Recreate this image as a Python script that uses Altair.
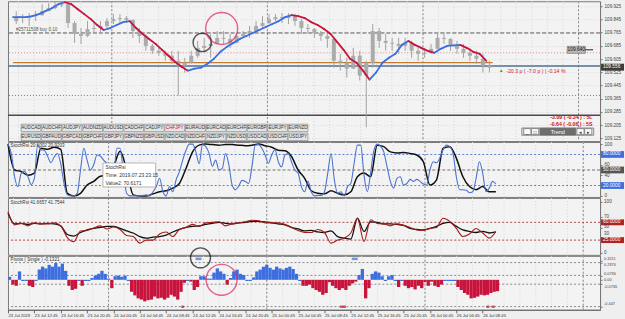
import altair as alt
import pandas as pd

FONT = "Liberation Sans"
W = 593
XDOM = [0, 89.8]

# ---------------- data ----------------
x_labels = ["23 Jul 2019", "23 Jul 12:45", "23 Jul 16:45", "23 Jul 20:45",
            "24 Jul 00:45", "24 Jul 04:45", "24 Jul 08:45", "24 Jul 12:45",
            "24 Jul 16:45", "24 Jul 20:45", "25 Jul 00:45", "25 Jul 04:45",
            "25 Jul 08:45", "25 Jul 12:45", "25 Jul 16:45", "25 Jul 20:45",
            "26 Jul 00:45", "26 Jul 04:45", "26 Jul 08:45"]
x_label_hours = [0, 4, 8, 12, 16, 20, 24, 28, 32, 36, 40, 44, 48, 52, 56, 60, 64, 68, 72]
day_breaks = [15.25, 39.25, 63.25, 87.25]
price_ticks = [109.925, 109.845, 109.765, 109.685, 109.605, 109.525,
               109.445, 109.365, 109.285, 109.205, 109.125]

open0 = 109.835
close = [109.853, 109.853, 109.865, 109.871, 109.895, 109.913, 109.931, 109.937, 109.823, 109.757,
         109.745, 109.787, 109.793, 109.805, 109.835, 109.847, 109.853, 109.841, 109.775, 109.745,
         109.685, 109.655, 109.643, 109.625, 109.595, 109.565, 109.583, 109.625, 109.673, 109.685,
         109.697, 109.733, 109.727, 109.703, 109.745, 109.757, 109.775, 109.805, 109.823, 109.847,
         109.859, 109.853, 109.865, 109.835, 109.793, 109.787, 109.763, 109.745, 109.727, 109.595,
         109.583, 109.547, 109.625, 109.505, 109.583, 109.775, 109.715, 109.703, 109.697, 109.685,
         109.703, 109.655, 109.637, 109.643, 109.667, 109.733, 109.727, 109.685, 109.667, 109.643,
         109.625, 109.607, 109.565, 109.553]
high = [109.895, 109.877, 109.883, 109.895, 109.937, 109.943, 109.955, 109.955, 109.955, 109.835,
        109.793, 109.835, 109.823, 109.835, 109.853, 109.877, 109.877, 109.865, 109.847, 109.793,
        109.757, 109.697, 109.673, 109.655, 109.655, 109.655, 109.613, 109.655, 109.715, 109.733,
        109.757, 109.775, 109.775, 109.757, 109.763, 109.775, 109.805, 109.835, 109.865, 109.877,
        109.877, 109.883, 109.883, 109.877, 109.847, 109.817, 109.793, 109.775, 109.757, 109.733,
        109.637, 109.613, 109.673, 109.655, 109.595, 109.817, 109.793, 109.757, 109.733, 109.733,
        109.733, 109.715, 109.673, 109.673, 109.697, 109.757, 109.763, 109.733, 109.715, 109.697,
        109.673, 109.655, 109.637, 109.595]
low = [109.817, 109.823, 109.805, 109.835, 109.865, 109.895, 109.907, 109.919, 109.793, 109.703,
       109.697, 109.739, 109.763, 109.763, 109.793, 109.817, 109.817, 109.823, 109.733, 109.703,
       109.655, 109.637, 109.625, 109.595, 109.577, 109.385, 109.523, 109.577, 109.613, 109.655,
       109.613, 109.697, 109.697, 109.673, 109.703, 109.733, 109.733, 109.775, 109.793, 109.817,
       109.835, 109.823, 109.817, 109.805, 109.757, 109.757, 109.733, 109.715, 109.673, 109.553,
       109.535, 109.493, 109.547, 109.475, 109.193, 109.553, 109.673, 109.655, 109.655, 109.637,
       109.655, 109.613, 109.595, 109.613, 109.637, 109.667, 109.697, 109.655, 109.637, 109.613,
       109.595, 109.577, 109.523, 109.523]
ma = [109.859, 109.859, 109.859, 109.865, 109.877, 109.895, 109.913, 109.937, 109.949, 109.937,
      109.907, 109.877, 109.847, 109.811, 109.781, 109.793, 109.811, 109.829, 109.835, 109.793,
      109.757, 109.727, 109.697, 109.661, 109.625, 109.589, 109.559, 109.535, 109.547, 109.553,
      109.577, 109.607, 109.649, 109.679, 109.703, 109.727, 109.745, 109.763, 109.781, 109.799,
      109.817, 109.835, 109.859, 109.871, 109.865, 109.853, 109.829, 109.811, 109.787, 109.757,
      109.709, 109.661, 109.607, 109.583, 109.535, 109.481, 109.523, 109.583, 109.613, 109.637,
      109.691, 109.715, 109.691, 109.673, 109.655, 109.643, 109.667, 109.685, 109.688, 109.691,
      109.673, 109.649, 109.637, 109.595]

level_prices = [109.763, 109.643, 109.563, 109.385, 109.265]
order_line_price = 109.583
current_price = 109.556
label_price = 109.661

# stochastic (blue: every 30 min, black: hourly)
stoch_blue = [100, 82, 37, 18, 43, 47, 38, 22, 34, 98,
              89, 88, 77, 64, 75, 82, 62, 24, 2, 0,
              0, 5, 50, 92, 69, 50, 60, 79, 77, 69,
              63, 53, 40, 92, 92, 47, 5, 0, 0, 0,
              0, 1, 2, 0, 8, 18, 34, 8, 0, 18,
              8, 31, 47, 69, 88, 100, 100, 85, 62, 99,
              95, 82, 57, 69, 50, 53, 82, 60, 21, 12,
              19, 30, 28, 24, 56, 98, 99, 92, 79, 63,
              79, 89, 66, 56, 79, 82, 66, 50, 44, 18,
              8, 28, 8, 0, 1, 1, 8, 44, 82, 31,
              5, 8, 0, 18, 24, 63, 98, 98, 40, 8,
              44, 88, 100, 96, 85, 56, 28, 15, 34, 37,
              21, 24, 32, 28, 32, 28, 23, 21, 50, 66,
              64, 73, 89, 98, 95, 82, 37, 12, 12, 11,
              6, 8, 34, 66, 44, 8, 15, 28, 23]
stoch_black = [100, 50, 47, 40, 44, 92, 90, 94, 90, 5,
               0, 5, 21, 28, 38, 40, 56, 86, 50, 2,
               0, 0, 4, 8, 10, 15, 24, 53, 85, 98,
               100, 99, 98, 99, 99, 98, 97, 98, 100, 97,
               94, 88, 87, 76, 50, 34, 10, 5, 4, 10,
               5, 2, 8, 37, 44, 37, 98, 95, 85, 83,
               84, 82, 79, 66, 21, 31, 92, 95, 73, 37,
               18, 12, 18, 8, 8]
stoch_levels = [80, 50, 20]

rsi_black = [78, 57, 58, 56, 58, 57, 58, 57, 53, 36,
             33, 40, 45, 48, 50, 52, 52, 48, 43, 39,
             32, 29, 31, 32, 35, 41, 46, 50, 52, 53,
             56, 58, 60, 58, 57, 59, 60, 62, 62, 61,
             59, 57, 55, 50, 47, 43, 44, 41, 40, 43,
             32, 29, 27, 68, 42, 61, 60, 57, 57, 56,
             54, 48, 46, 45, 48, 52, 58, 60, 52, 45,
             42, 40, 42, 39, 41]
rsi_red = [81, 55, 58, 53, 59, 57, 57, 59, 53, 30,
           22, 43, 44, 49, 53, 47, 51, 46, 34, 32,
           19, 25, 25, 37, 41, 32, 46, 50, 56, 52,
           59, 60, 61, 53, 57, 59, 61, 64, 63, 59,
           59, 59, 56, 50, 44, 40, 40, 46, 40, 19,
           25, 29, 39, 68, 22, 65, 58, 57, 53, 57,
           54, 50, 45, 44, 48, 50, 68, 62, 48, 32,
           37, 48, 39, 29, 42]
rsi_levels = [60, 25]
rsi_ticks = [0, 30, 50, 70, 100]

pivots = [0.05, -0.08, -0.1, 0.14, -0.02, -0.02, -0.1, -0.12, -0.02, 0.17,
          0.22, 0.19, 0.25, 0.22, 0.28, 0.22, 0.27, 0.15, -0.1, -0.17,
          -0.15, -0.02, -0.1, -0.02, -0.02, 0.03, 0.07, 0.1, 0.15, 0.1,
          0.02, -0.14, 0.06, 0.07, 0.05, 0.07, -0.02, -0.2, -0.26, -0.31,
          -0.33, -0.36, -0.34, -0.33, -0.28, -0.31, -0.3, -0.33, -0.3, -0.25,
          -0.28, -0.33, -0.2, -0.05, -0.02, -0.03, -0.17, -0.12, 0.06, 0.06,
          0.02, 0.02, 0.12, 0.19, 0.14, 0.1, -0.08, 0.03, 0.14, 0.17,
          0.1, 0.08, -0.02, -0.02, 0.04, 0.14, 0.17, 0.22, 0.25, 0.2,
          0.17, 0.22, 0.19, 0.17, 0.2, 0.22, 0.18, 0.1, -0.02, -0.1,
          -0.1, -0.08, -0.14, -0.17, -0.2, -0.25, -0.22, -0.04, -0.1, -0.14,
          -0.17, -0.14, -0.17, -0.1, -0.06, -0.03, 0.08, 0.18, -0.31, -0.14,
          0.1, 0.14, 0.12, 0.06, -0.02, 0.06, 0.08, -0.02, -0.12, -0.02,
          -0.1, -0.14, -0.12, -0.16, -0.1, -0.14, -0.04, -0.1, -0.03, -0.1,
          -0.12, -0.08, -0.02, -0.02, -0.02, -0.02, -0.12, -0.17, -0.22, -0.25,
          -0.31, -0.3, -0.28, -0.25, -0.26, -0.25, -0.22, -0.2, -0.19]
pivot_ticks = [0.3211, 0.2876, 0.0736, 0, -0.0736, -0.447]
pivot_tick_text = ["0.3211", "0.2876", "0.0736", "0.00", "-0.0736", "-0.447"]
pivot_levels = [0.2876, 0.0736, -0.0736, -0.447]
marker_h = [28.9, 52.6, 26.5, 50.8, 72.8, 73.6]
marker_v = [0.35, 0.35, -0.45, -0.45, -0.45, -0.45]
marker_kind = ["up", "up", "dn", "dn", "dn", "dn"]

pairs_row1 = ["AUDCAD", "AUDCHF", "AUDJPY", "AUDNZD", "AUDUSD", "CADCHF", "CADJPY",
              "CHFJPY", "EURAUD", "EURCAD", "EURCHF", "EURGBP", "EURJPY", "EURNZD"]
pairs_row2 = ["EURUSD", "GBPAUD", "GBPCAD", "GBPCHF", "GBPJPY", "GBPNZD", "GBPUSD",
              "NZDCAD", "NZDCHF", "NZDJPY", "NZDUSD", "USDCAD", "USDCHF", "USDJPY"]
active_pair = "CHFJPY"

assert len(close) == len(high) == len(low) == len(ma) == 74
assert len(stoch_blue) == 149 and len(pivots) == 149
assert len(stoch_black) == len(rsi_black) == len(rsi_red) == 75

# ---------------- helpers ----------------
xs = alt.Scale(domain=XDOM, nice=False, zero=False)
BLUE = "#3d6ee0"
RED = "#c8143c"


def xe(field, axis=None):
    return alt.X(field, type="quantitative", scale=xs, axis=axis, title=None)


def make_y(scale, axis):
    def ye(field):
        return alt.Y(field, type="quantitative", scale=scale, axis=axis, title=None)
    return ye


def right_axis(values, fmt=None, grid=False, size=4.6, labels=True):
    kw = dict(orient="right", values=values, grid=grid, labelFontSize=size, labelFont=FONT,
              labelColor="#444", tickSize=2, tickColor="#777", domainColor="#777",
              labelPadding=2, title=None, labelOverlap=False, labels=labels)
    if grid:
        kw.update(gridColor="#dadada", gridDash=[1, 2])
    if fmt:
        kw["format"] = fmt
    return alt.Axis(**kw)


def side_labels(ye, values, labels, nudges, size):
    """Tick labels to the right of a panel, each one nudged vertically to stay legible."""
    out = []
    for v, t, d in zip(values, labels, nudges):
        out.append(alt.Chart(pd.DataFrame({"v": [v], "t": [t]})).mark_text(
            font=FONT, fontSize=size, align="left", baseline="middle", color="#444",
            dy=d).encode(x=alt.value(W + 4), y=ye("v"), text="t:N"))
    return out


grid_df = pd.DataFrame({"h": [15.25 + 2.4 * n for n in range(-6, 31)]})
day_df = pd.DataFrame({"h": day_breaks})


def vgrid(xaxis):
    g = alt.Chart(grid_df).mark_rule(color="#d8d8d8", strokeDash=[1, 2]).encode(x=xe("h", xaxis))
    d = alt.Chart(day_df).mark_rule(color="#8a8a8a", strokeDash=[2, 2]).encode(x=xe("h", xaxis))
    return [g, d]


def hrules(ye, values, color, dash, width=1):
    kw = dict(color=color, strokeWidth=width)
    if dash:
        kw["strokeDash"] = dash
    return alt.Chart(pd.DataFrame({"v": values})).mark_rule(**kw).encode(y=ye("v"))


def texts(df, ye, xaxis=None, **mk):
    base = dict(font=FONT, baseline="middle", fontSize=5.5)
    base.update(mk)
    return alt.Chart(df).mark_text(**base).encode(x=xe("h", xaxis), y=ye("v"), text="t:N")


def axis_boxes(ye, values, labels, fills, half):
    df = pd.DataFrame({"v": values, "t": labels, "f": fills})
    df["top"] = df["v"] + half
    df["bot"] = df["v"] - half
    box = alt.Chart(df).mark_rect().encode(
        x=alt.value(W + 1), x2=alt.value(W + 24), y=ye("top"), y2=alt.Y2("bot"),
        fill=alt.Fill("f:N", scale=None))
    txt = alt.Chart(df).mark_text(font=FONT, fontSize=4.8, align="left", baseline="middle",
                                  color="white").encode(x=alt.value(W + 3), y=ye("v"), text="t:N")
    return [box, txt]


# ---------------- price panel ----------------
PH = 140
PY = alt.Scale(domain=[109.109, 109.955], nice=False, zero=False)
py = make_y(PY, right_axis(price_ticks, fmt=".3f", grid=True))

hours = list(range(74))
cdf = pd.DataFrame({"h": [h + 0.5 for h in hours], "open": [open0] + close[:-1],
                    "close": close, "high": high, "low": low})
wick = alt.Chart(cdf).mark_rule(color="#a2a2a2", strokeWidth=1).encode(
    x=xe("h"), y=py("low"), y2=alt.Y2("high"))
body = alt.Chart(cdf).mark_bar(color="#ababab", width=4).encode(
    x=xe("h"), y=py("open"), y2=alt.Y2("close"))

mdf = pd.DataFrame({"h": hours[:-1], "h2": hours[1:], "m": ma[:-1], "m2": ma[1:]})
mdf["dir"] = ["up" if b >= a else "down" for a, b in zip(mdf["m"], mdf["m2"])]
ma_line = alt.Chart(mdf).mark_rule(strokeWidth=1.8, strokeCap="round").encode(
    x=xe("h"), x2=alt.X2("h2"), y=py("m"), y2=alt.Y2("m2"),
    color=alt.Color("dir:N", scale=alt.Scale(domain=["up", "down"], range=[BLUE, RED]), legend=None))

lv_styles = [("#5a5a5a", [4, 2], 1), ("#d98c8c", [1, 2], 1), ("#4f6f94", None, 1.3),
             ("#5b7fd6", [1, 2], 1), ("#4a4a4a", None, 1.3)]
level_layers = [hrules(py, [p], c, d, w) for p, (c, d, w) in zip(level_prices, lv_styles)]
order_line = alt.Chart(pd.DataFrame({"h": [0], "h2": [74], "v": [order_line_price]})).mark_rule(
    color="#c47a2c", strokeWidth=1.3).encode(x=xe("h"), x2=alt.X2("h2"), y=py("v"))

# buttons
brow = []
for r, row in enumerate([pairs_row1, pairs_row2]):
    for i, name in enumerate(row):
        x0 = 1.25 + i * 3.17
        top = 109.211 - r * 0.054
        brow.append({"h": x0 + 1.52, "x0": x0, "x1": x0 + 3.05, "top": top, "bot": top - 0.045,
                     "v": top - 0.0225, "t": name, "c": "#d01010" if name == active_pair else "#333333"})
bdf = pd.DataFrame(brow)
buttons = alt.Chart(bdf).mark_rect(fill="#e4e4e4", stroke="#8a8a8a", strokeWidth=0.7).encode(
    x=xe("x0"), x2=alt.X2("x1"), y=py("top"), y2=alt.Y2("bot"))
btext = alt.Chart(bdf).mark_text(font=FONT, fontSize=4.6, baseline="middle").encode(
    x=xe("h"), y=py("v"), text="t:N", color=alt.Color("c:N", scale=None))

# trend widget
wdf = pd.DataFrame({"x0": [78.5, 78.8, 80.0, 81.3, 87.0, 88.2],
                    "x1": [89.6, 79.9, 81.1, 86.8, 88.1, 89.3],
                    "top": [109.188, 109.184, 109.184, 109.186, 109.184, 109.184],
                    "bot": [109.144, 109.148, 109.148, 109.146, 109.148, 109.148],
                    "f": ["#e2e2e2", "#fafafa", "#fafafa", "#6e6e6e", "#fafafa", "#fafafa"]})
widget = alt.Chart(wdf).mark_rect(stroke="#666", strokeWidth=0.7).encode(
    x=xe("x0"), x2=alt.X2("x1"), y=py("top"), y2=alt.Y2("bot"), fill=alt.Fill("f:N", scale=None))
wtext = texts(pd.DataFrame({"h": [79.35, 80.55, 87.55, 88.75], "v": [109.166] * 4,
                            "t": ["_", "□", "◂", "▸"]}), py, fontSize=5, align="center",
              color="#333")
wtext2 = texts(pd.DataFrame({"h": [84.05], "v": [109.166], "t": ["Trend"]}), py, fontSize=5.5,
               align="center", color="white")

# gray label box in the plot
lbl_box = alt.Chart(pd.DataFrame({"x0": [85.5], "x1": [88.3], "top": [label_price + 0.021],
                                  "bot": [label_price - 0.021]})).mark_rect(
    fill="#b9b9b9", stroke="#666", strokeWidth=0.6).encode(
    x=xe("x0"), x2=alt.X2("x1"), y=py("top"), y2=alt.Y2("bot"))
lbl_line = alt.Chart(pd.DataFrame({"h": [88.3], "h2": [89.5], "v": [label_price]})).mark_rule(
    color="#222", strokeWidth=1).encode(x=xe("h"), x2=alt.X2("h2"), y=py("v"))
lbl_text = texts(pd.DataFrame({"h": [86.9], "v": [label_price], "t": ["109.640"]}), py,
                 fontSize=4.8, align="center", color="#111")

price_text = [
    texts(pd.DataFrame({"h": [0.45], "v": [109.781], "t": ["#25711508 buy 0.10"]}), py,
          fontSize=4.6, align="left", color="#555"),
    texts(pd.DataFrame({"h": [75.0], "v": [109.535], "t": ["▲"]}), py, fontSize=4.6,
          align="left", color="#7a8c00"),
    texts(pd.DataFrame({"h": [76.1], "v": [109.535], "t": ["-20.3 p ( -7.0 p ) | -0.14 %"]}), py,
          fontSize=5.2, align="left", color="#cc2020"),
    texts(pd.DataFrame({"h": [89.4, 89.4], "v": [109.257, 109.215],
                        "t": ["-3.09 ( -0.34 ) : 5L", "-0.64 ( -0.06 ) : 5S"]}), py,
          fontSize=5.2, align="right", color="#c41818", fontWeight="bold"),
]

circ_p = pd.DataFrame({"h": [29.2, 32.2], "v": [109.706, 109.790], "s": [340, 1024],
                       "c": ["#111111", "#e0245e"]})
circles_p = alt.Chart(circ_p).mark_point(shape="circle", filled=False, strokeWidth=1.4).encode(
    x=xe("h"), y=py("v"), size=alt.Size("s:Q", scale=None), color=alt.Color("c:N", scale=None))

price_panel = alt.layer(
    *vgrid(None), *level_layers, order_line, wick, body, ma_line, circles_p,
    buttons, btext, widget, wtext, wtext2, lbl_box, lbl_line, lbl_text, *price_text,
    *axis_boxes(py, [current_price], ["109.556"], ["#3c3c3c"], 0.021)
).properties(width=W, height=PH)

# ---------------- stochastic panel ----------------
SY = alt.Scale(domain=[-2, 104], nice=False, zero=False)
sy = make_y(SY, right_axis([0, 40, 60, 100]))
sb = pd.DataFrame({"h": [k * 0.5 for k in range(149)], "v": stoch_blue})
sk = pd.DataFrame({"h": list(range(75)), "v": stoch_black})
tip = pd.DataFrame({"x0": [14.4], "x1": [22.4], "top": [63.5], "bot": [17.3]})
stoch_panel = alt.layer(
    *vgrid(None),
    hrules(sy, [80, 20], "#5b7fd6", [2, 2]),
    hrules(sy, [50], "#707070", [3, 2]),
    alt.Chart(sk).mark_line(color="#111", strokeWidth=1.5, interpolate="monotone").encode(
        x=xe("h"), y=sy("v")),
    alt.Chart(sb).mark_line(color="#4a73cf", strokeWidth=1.1, interpolate="monotone").encode(
        x=xe("h"), y=sy("v")),
    texts(pd.DataFrame({"h": [0.4], "v": [97], "t": ["StochRsi 20.6002 20.9203"]}), sy,
          fontSize=4.6, align="left", color="#333"),
    alt.Chart(tip).mark_rect(fill="white", stroke="#9a9a9a", strokeWidth=0.7).encode(
        x=xe("x0"), x2=alt.X2("x1"), y=sy("top"), y2=alt.Y2("bot")),
    texts(pd.DataFrame({"h": [14.8] * 3, "v": [55, 40, 25],
                        "t": ["StochRsi", "Time: 2019.07.23 23:15", "Value2: 70.6171"]}), sy,
          fontSize=5, align="left", color="#333"),
    *axis_boxes(sy, stoch_levels, ["80.0000", "50.0000", "20.0000"],
                ["#3d6ee0", "#555555", "#3d6ee0"], 6.5)
).properties(width=W, height=55)

# ---------------- stoch RSI panel ----------------
RY = alt.Scale(domain=[-4, 108], nice=False, zero=False)
ry = make_y(RY, right_axis(rsi_ticks, labels=False))
rdf = pd.DataFrame({"h": list(range(75)), "k": rsi_black, "r": rsi_red})
rsi_panel = alt.layer(
    *vgrid(None),
    hrules(ry, rsi_levels, "#b04848", [2, 2]),
    alt.Chart(rdf).mark_line(color="#111", strokeWidth=1.3, interpolate="monotone").encode(
        x=xe("h"), y=ry("k")),
    alt.Chart(rdf).mark_line(color="#a51c1c", strokeWidth=1.1, interpolate="monotone").encode(
        x=xe("h"), y=ry("r")),
    texts(pd.DataFrame({"h": [0.4], "v": [98], "t": ["StochRsi 41.6657 41.7544"]}), ry,
          fontSize=4.6, align="left", color="#333"),
    *axis_boxes(ry, rsi_levels, ["60.0000", "25.0000"], ["#b22222", "#b22222"], 5.8),
    *side_labels(ry, rsi_ticks, [str(t) for t in rsi_ticks], [0, -3.2, 0, 0, 0], 4.6),
).properties(width=W, height=57)

# ---------------- pivots histogram panel ----------------
lab_js = "[" + ",".join("'%s'" % s for s in x_labels) + "]"
XAX = alt.Axis(values=x_label_hours, labelExpr=lab_js + "[round(datum.value/4)]",
               labelAlign="left", labelFontSize=4.2, labelFont=FONT, labelColor="#333",
               tickSize=3, tickColor="#666", domainColor="#666", labelPadding=1,
               grid=False, title=None, labelOverlap=False, labelFlush=False)
HY = alt.Scale(domain=[-0.5, 0.4], nice=False, zero=False)
hy = make_y(HY, right_axis(pivot_ticks, labels=False))
hdf = pd.DataFrame({"h": [k * 0.5 for k in range(149)], "v": pivots})
hdf["h2"] = hdf["h"] + 0.5
hdf["zero"] = 0.0
hdf["kind"] = ["pos" if v > 0.025 else ("neg" if v < -0.025 else "flat") for v in pivots]
bars = alt.Chart(hdf).mark_rect().encode(
    x=xe("h", XAX), x2=alt.X2("h2"), y=hy("v"), y2=alt.Y2("zero"),
    color=alt.Color("kind:N", scale=alt.Scale(domain=["pos", "neg", "flat"],
                                              range=["#3d6ed8", "#b01e1a", "#c6c6c6"]),
                    legend=None))
mdf2 = pd.DataFrame({"h": marker_h, "v": marker_v, "kind": marker_kind,
                     "len": [6, 6, 3, 6, 3, 3]})
markers = alt.Chart(mdf2).mark_tick(orient="horizontal", thickness=2.5).encode(
    x=xe("h", XAX), y=hy("v"), size=alt.Size("len:Q", scale=None),
    color=alt.Color("kind:N", scale=alt.Scale(domain=["up", "dn"], range=["#3d6ed8", "#b01e1a"]),
                    legend=None))
circ_h = pd.DataFrame({"h": [29.2, 32.4], "v": [0.367, 0.0], "s": [400, 961],
                       "c": ["#111111", "#e0245e"]})
circles_h = alt.Chart(circ_h).mark_point(shape="circle", filled=False, strokeWidth=1.4).encode(
    x=xe("h", XAX), y=hy("v"), size=alt.Size("s:Q", scale=None), color=alt.Color("c:N", scale=None))
hist_panel = alt.layer(
    *vgrid(XAX),
    hrules(hy, pivot_levels, "#8a8a8a", [2, 2]),
    bars, markers, circles_h,
    *side_labels(hy, pivot_ticks, pivot_tick_text, [-2.0, 2.0, -1.8, 0.4, 2.6, -3.0], 3.9),
    texts(pd.DataFrame({"h": [0.4], "v": [0.333], "t": ["Pivots ( Single ) -0.1321"]}), hy, XAX,
          fontSize=4.6, align="left", color="#333"),
).properties(width=W, height=54)

chart = alt.vconcat(price_panel, stoch_panel, rsi_panel, hist_panel, spacing=1,
                    bounds="flush").properties(
    padding={"left": 4, "top": 0, "right": 0, "bottom": 0},
    background="#efefef",
).configure(font=FONT).configure_view(stroke="#7a7a7a", strokeWidth=1, fill="#f3f3f3")

chart.save("out.html", embed_options={"renderer": "svg", "actions": False})
